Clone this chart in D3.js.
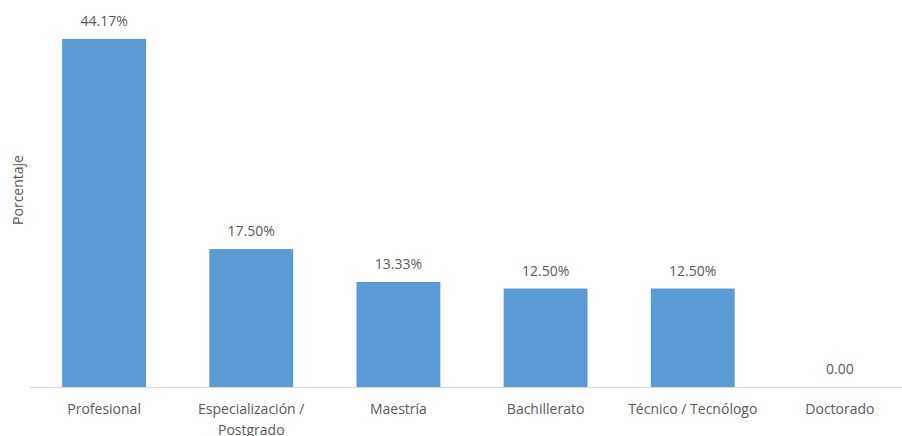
<!DOCTYPE html>
<html lang="es">
<head>
<meta charset="UTF-8">
<title>Porcentaje por nivel educativo</title>
<script src="https://d3js.org/d3.v7.min.js"></script>
<style>
  body { margin: 0; background: #fff; }
  svg text { font-family: "Open Sans", "Noto Sans", sans-serif; fill: #595959; }
</style>
</head>
<body>
<div id="chart"></div>
<script>
// datos
const categorias = ["Profesional", "Especialización / Postgrado", "Maestría", "Bachillerato", "Técnico / Tecnólogo", "Doctorado"];
const porcentajes = [44.17, 17.50, 13.33, 12.50, 12.50, 0];
const etiquetas = ["44.17%", "17.50%", "13.33%", "12.50%", "12.50%", "0.00"];

const width = 902, height = 436;
const baseY = 387;

const svg = d3.select("#chart").append("svg")
  .attr("width", width)
  .attr("height", height);

const x = d3.scaleBand()
  .domain(categorias)
  .range([30.5, 913.5])
  .paddingInner(0.43)
  .paddingOuter(0.215);

const y = d3.scaleLinear()
  .domain([0, 45])
  .range([baseY, baseY - 45 * 7.88]);

// barras
svg.selectAll(".bar")
  .data(porcentajes)
  .enter().append("rect")
  .attr("class", "bar")
  .attr("x", (d, i) => x(categorias[i]))
  .attr("y", d => y(d))
  .attr("width", x.bandwidth())
  .attr("height", d => baseY - y(d))
  .attr("fill", "#5B9BD5");

// eje x (solo la linea)
svg.append("line")
  .attr("x1", 30).attr("x2", 913)
  .attr("y1", baseY + 0.5).attr("y2", baseY + 0.5)
  .attr("stroke", "#D9D9D9")
  .attr("stroke-width", 1);

// etiquetas de valor
svg.selectAll(".lbl")
  .data(porcentajes)
  .enter().append("text")
  .attr("class", "lbl")
  .attr("x", (d, i) => x(categorias[i]) + x.bandwidth() / 2)
  .attr("y", d => y(d) - 13)
  .attr("text-anchor", "middle")
  .style("font-size", "14px")
  .text((d, i) => etiquetas[i]);

// etiquetas de categoria (con salto de linea)
const cat = svg.selectAll(".cat")
  .data(categorias)
  .enter().append("text")
  .attr("class", "cat")
  .attr("text-anchor", "middle")
  .style("font-size", "14px")
  .attr("transform", d => `translate(${x(d) + x.bandwidth() / 2},414)`);

cat.each(function(d) {
  const lines = d === "Especialización / Postgrado" ? ["Especialización /", "Postgrado"] : [d];
  d3.select(this).selectAll("tspan")
    .data(lines)
    .enter().append("tspan")
    .attr("x", 0)
    .attr("dy", (l, i) => i === 0 ? 0 : 21)
    .text(l => l);
});

// titulo eje y
svg.append("text")
  .attr("transform", "translate(23,190) rotate(-90)")
  .attr("text-anchor", "middle")
  .style("font-size", "14px")
  .text("Porcentaje");
</script>
</body>
</html>
